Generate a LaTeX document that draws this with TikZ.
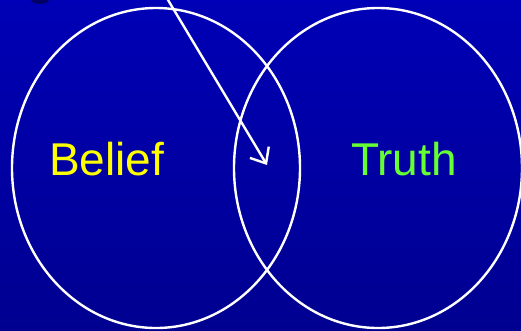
\documentclass[tikz,border=0pt]{standalone}
\usepackage{fontspec}
\setmainfont{Liberation Sans}
\usetikzlibrary{shapes.geometric,arrows.meta}
\definecolor{bgtop}{RGB}{0,0,182}
\definecolor{bgbot}{RGB}{0,0,144}
\definecolor{belief}{RGB}{255,255,0}
\definecolor{truth}{RGB}{102,255,51}
\definecolor{shadowc}{RGB}{0,0,70}
\tikzset{
  circ/.style={draw=white, line width=2.4pt, ellipse, minimum width=288pt, minimum height=320pt, inner sep=0pt},
  lbl/.style={font=\fontsize{46}{46}\selectfont, inner sep=0pt, anchor=base west},
  arr/.style={draw=white, line width=2.4pt, -{Straight Barb[length=13pt, width=22pt, line width=2.4pt]}}
}
\begin{document}
\begin{tikzpicture}[x=1pt,y=-1pt]
\useasboundingbox (0,0) rectangle (521,330);
\clip (0,0) rectangle (521,330);
\shade[top color=bgtop, bottom color=bgbot] (0,0) rectangle (521,330);
\fill[shadowc, opacity=0.7] (40,0) ellipse (9pt and 4pt);
\node[circ] (belief) at (156,168) {};
\node[circ] (truth) at (378,168) {};
\node[lbl, text=belief] (bt) at (49,175) {Belief};
\node[lbl, text=truth] (tt) at (351,175) {Truth};
\coordinate (start) at (162,-10);
\coordinate (tip) at (267,165);
\draw[arr] (start) -- (tip);
\end{tikzpicture}
\end{document}
